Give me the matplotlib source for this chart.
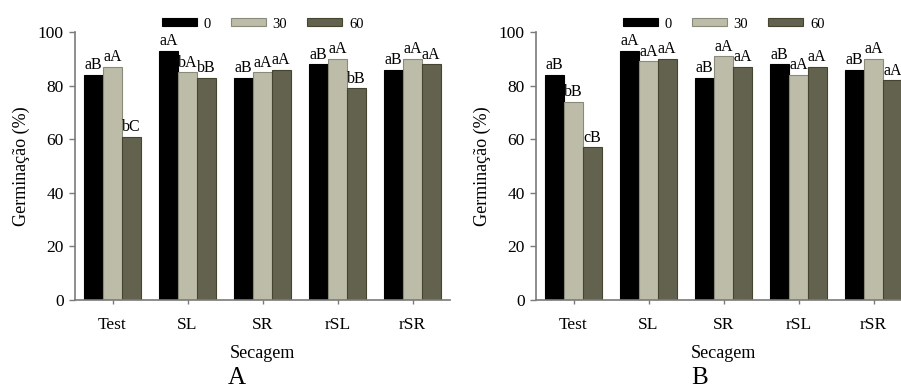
import numpy as np
import matplotlib.pyplot as plt

plt.rcParams['font.family'] = ['Liberation Serif', 'DejaVu Serif']

grupos = ['Test', 'SL', 'SR', 'rSL', 'rSR']
niveis = ['0', '30', '60']

# painel A
a_0 = [84, 93, 83, 88, 86]
a_30 = [87, 85, 85, 90, 90]
a_60 = [61, 83, 86, 79, 88]
a_letras = [['aB', 'aA', 'aB', 'aB', 'aB'],
            ['aA', 'bA', 'aA', 'aA', 'aA'],
            ['bC', 'bB', 'aA', 'bB', 'aA']]

# painel B
b_0 = [84, 93, 83, 88, 86]
b_30 = [74, 89, 91, 84, 90]
b_60 = [57, 90, 87, 87, 82]
b_letras = [['aB', 'aA', 'aB', 'aB', 'aB'],
            ['bB', 'aA', 'aA', 'aA', 'aA'],
            ['cB', 'aA', 'aA', 'aA', 'aA']]

cores = ['#000000', '#bcbca9', '#62624e']
bordas = ['#000000', '#8a8a7a', '#45452f']

W, H = 901, 391
fig = plt.figure(figsize=(W / 100, H / 100), dpi=100)


def painel(left_px, series, letras, letra_painel, letra_x):
    ax = fig.add_axes([left_px / W, (H - 300) / H, 375 / W, 268 / H])
    x = np.arange(len(grupos))
    w = 0.25
    for i, vals in enumerate(series):
        pos = x + (i - 1) * w
        ax.bar(pos, vals, w, color=cores[i], edgecolor=bordas[i],
               linewidth=0.8, label=niveis[i])
        for p, v, t in zip(pos, vals, letras[i]):
            ax.text(p, v + 0.6, t, ha='center', va='bottom', fontsize=11.5)
    ax.set_xlim(-0.5, 4.5)
    ax.set_ylim(0, 100)
    ax.set_yticks([0, 20, 40, 60, 80, 100])
    ax.set_xticks(x)
    ax.set_xticklabels(grupos)
    for s in ['top', 'right']:
        ax.spines[s].set_visible(False)
    for s in ['left', 'bottom']:
        ax.spines[s].set_color('#7a7a7a')
        ax.spines[s].set_linewidth(1.2)
    ax.tick_params(axis='y', direction='out', length=4, width=1,
                   color='#7a7a7a', labelsize=12.5, pad=4)
    ax.tick_params(axis='x', direction='out', length=3, width=1,
                   color='#7a7a7a', labelsize=12.5, pad=9)
    ax.set_ylabel('Germinação (%)', fontsize=13)
    ax.yaxis.set_label_coords(-54 / 375, 0.5)
    ax.yaxis.label.set_va('center')
    ax.set_xlabel('Secagem', fontsize=13)
    ax.xaxis.set_label_coords(0.5, -53 / 268)
    ax.xaxis.label.set_va('center')
    ax.legend(loc='center', bbox_to_anchor=(0.5, 1 + 8 / 268), ncol=3,
              frameon=False, fontsize=10.5, handlelength=2.4,
              handleheight=0.5, handletextpad=0.45, columnspacing=1.4)
    fig.text(letra_x / W, 2 / H, letra_painel, ha='center',
             va='bottom', fontsize=18)
    return ax


painel(75, [a_0, a_30, a_60], a_letras, 'A', 237)
painel(536, [b_0, b_30, b_60], b_letras, 'B', 700)

fig.savefig('out.png', dpi=100)
